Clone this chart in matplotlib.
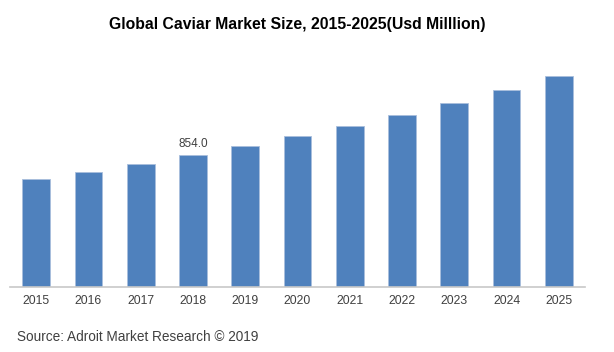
import matplotlib
matplotlib.use("Agg")
from matplotlib import pyplot as plt

years = ["2015", "2016", "2017", "2018", "2019", "2020",
         "2021", "2022", "2023", "2024", "2025"]
market_size = [701, 746, 798, 854.0, 915, 977, 1045, 1116, 1194, 1278, 1369]
labelled_year = "2018"

plt.rcParams['font.family'] = ['Liberation Sans', 'DejaVu Sans']

fig = plt.figure(figsize=(6.14, 3.52), dpi=100)
ax = fig.add_axes([10 / 614, 65 / 352, 575 / 614, 232 / 352])

x = range(len(years))
bars = ax.bar(x, market_size, width=0.53, color="#4F81BD",
              edgecolor="#A9BEDC", linewidth=0.6)

i = years.index(labelled_year)
ax.annotate(f"{market_size[i]:.1f}", (i, market_size[i]),
            xytext=(0, 4), textcoords="offset points",
            ha="center", va="bottom", fontsize=8.5, color="#404040")

ax.set_xlim(-0.5, len(years) - 0.5)
ax.set_ylim(0, 1506)
ax.set_xticks(list(x))
ax.set_xticklabels(years, fontsize=8.8, color="#404040")
ax.tick_params(axis="x", length=0, pad=6)
ax.set_yticks([])
for s in ["top", "right", "left"]:
    ax.spines[s].set_visible(False)
ax.spines["bottom"].set_color("#C8C8C8")
ax.spines["bottom"].set_linewidth(1.2)

fig.text(297.5 / 614, 1 - 24 / 352, "Global Caviar Market Size, 2015-2025(Usd Milllion)",
         ha="center", va="center", fontsize=11.3, fontweight="bold", color="black")
fig.text(17 / 614, 1 - 337 / 352, "Source: Adroit Market Research \u00a9 2019",
         ha="left", va="center", fontsize=9.8, color="#404040")

fig.savefig("out.png", dpi=100)
